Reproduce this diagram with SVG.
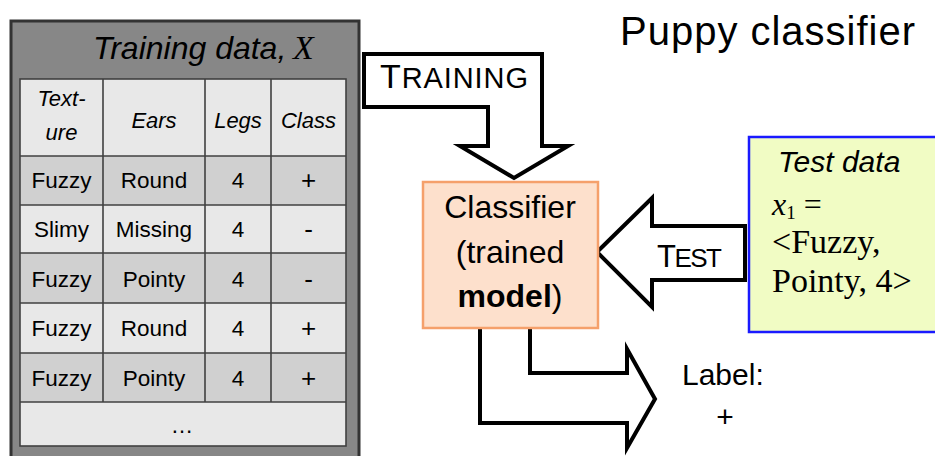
<svg xmlns="http://www.w3.org/2000/svg" width="935" height="456" viewBox="0 0 935 456">
  <style>
    .sans { font-family: "Liberation Sans", Arial, sans-serif; fill: #000; }
    .serif { font-family: "Liberation Serif", "Times New Roman", serif; fill: #000; }
    .cell { font-size: 22.5px; text-anchor: middle; }
    .sign { font-size: 26px; }
    .head { font-size: 22px; text-anchor: middle; font-style: italic; }
    .light { fill: #e8e8e8; }
    .dark { fill: #d0d0d0; }
    .grid { stroke: #404040; stroke-width: 1.6; fill: none; }
    .block { fill: #fff; stroke: #000; stroke-width: 4; stroke-linejoin: miter; }
  </style>

  <rect width="935" height="456" fill="#fff"/>

  <!-- Title -->
  <text id="title" class="sans" x="620" y="45" font-size="40" textLength="295">Puppy classifier</text>

  <!-- Training data panel -->
  <g id="training-data">
    <rect x="11" y="21" width="348" height="450" fill="#878787" stroke="#333" stroke-width="3"/>
    <text class="sans" x="93" y="59" font-size="32" font-style="italic">Training data,</text>
    <text class="serif" x="293" y="59" font-size="34" font-style="italic">X</text>

    <!-- row fills -->
    <rect class="light" x="20" y="79" width="326" height="77"/>
    <rect class="dark" x="20" y="156" width="326" height="49"/>
    <rect class="light" x="20" y="205" width="326" height="48"/>
    <rect class="dark" x="20" y="253" width="326" height="50"/>
    <rect class="light" x="20" y="303" width="326" height="50"/>
    <rect class="dark" x="20" y="353" width="326" height="49"/>
    <rect class="light" x="20" y="402" width="326" height="44"/>

    <!-- grid lines -->
    <rect class="grid" x="20" y="79" width="326" height="367"/>
    <path class="grid" d="M20 156H346M20 205H346M20 253H346M20 303H346M20 353H346M20 402H346
                          M103 79V402M205 79V402M271 79V402"/>

    <!-- header -->
    <text class="sans head" x="61.5" y="106">Text-</text>
    <text class="sans head" x="61.5" y="140">ure</text>
    <text class="sans head" x="154" y="128">Ears</text>
    <text class="sans head" x="238" y="128">Legs</text>
    <text class="sans head" x="308.5" y="128">Class</text>

    <!-- rows -->
    <g class="sans cell">
      <text x="61.5" y="188">Fuzzy</text><text x="154" y="188">Round</text><text x="238" y="188">4</text><text class="sign" x="308.5" y="189">+</text>
      <text x="61.5" y="237">Slimy</text><text x="154" y="237">Missing</text><text x="238" y="237">4</text><text class="sign" x="308.5" y="238">-</text>
      <text x="61.5" y="287">Fuzzy</text><text x="154" y="287">Pointy</text><text x="238" y="287">4</text><text class="sign" x="308.5" y="288">-</text>
      <text x="61.5" y="336">Fuzzy</text><text x="154" y="336">Round</text><text x="238" y="336">4</text><text class="sign" x="308.5" y="337">+</text>
      <text x="61.5" y="386">Fuzzy</text><text x="154" y="386">Pointy</text><text x="238" y="386">4</text><text class="sign" x="308.5" y="387">+</text>
      <text x="182" y="433">…</text>
    </g>
  </g>

  <!-- Connectors: block arrows -->
  <g id="connectors">
    <g id="training-arrow">
      <polygon class="block" points="364,54 542,54 542,146 568,146 514,178 460,146 488,146 488,107 364,107"/>
      <text class="sans" x="380" y="88" textLength="148"><tspan font-size="34">T</tspan><tspan font-size="29">RAINING</tspan></text>
    </g>
    <g id="test-arrow">
      <polygon class="block" points="597,252 652,198 652,226 745,226 745,280 652,280 652,307"/>
      <text class="sans" x="657" y="267" textLength="65"><tspan font-size="31">T</tspan><tspan font-size="26">EST</tspan></text>
    </g>
    <g id="output-arrow">
      <polygon class="block" points="480,322 530,322 530,373 627,373 627,349 655,399 627,448 627,423 480,423"/>
    </g>
  </g>

  <!-- Classifier node -->
  <g id="classifier">
    <rect x="423" y="182" width="175" height="146" fill="#fde0cc" stroke="#f5a06b" stroke-width="2.5"/>
    <text class="sans" x="510" y="218" font-size="32" text-anchor="middle">Classifier</text>
    <text class="sans" x="510" y="263" font-size="32" text-anchor="middle">(trained</text>
    <text class="sans" x="510" y="307" font-size="32" text-anchor="middle"><tspan font-weight="bold">model</tspan>)</text>
  </g>

  <!-- Test data node -->
  <g id="test-data">
    <rect x="749" y="137" width="190" height="195" fill="#f1fcc4" stroke="#1a1aff" stroke-width="2.5"/>
    <text class="sans" x="778" y="172" font-size="30" font-style="italic">Test data</text>
    <text class="serif" x="772" y="215" font-size="32"><tspan font-style="italic">x</tspan><tspan font-size="19" dy="4">1</tspan><tspan dy="-4"> =</tspan></text>
    <text class="serif" x="772" y="253" font-size="34">&lt;Fuzzy,</text>
    <text class="serif" x="772" y="292" font-size="34">Pointy, 4&gt;</text>
  </g>

  <!-- Output label -->
  <g id="label">
    <text class="sans" x="682" y="385" font-size="30">Label:</text>
    <text class="sans" x="725" y="427" font-size="30" text-anchor="middle">+</text>
  </g>
</svg>
